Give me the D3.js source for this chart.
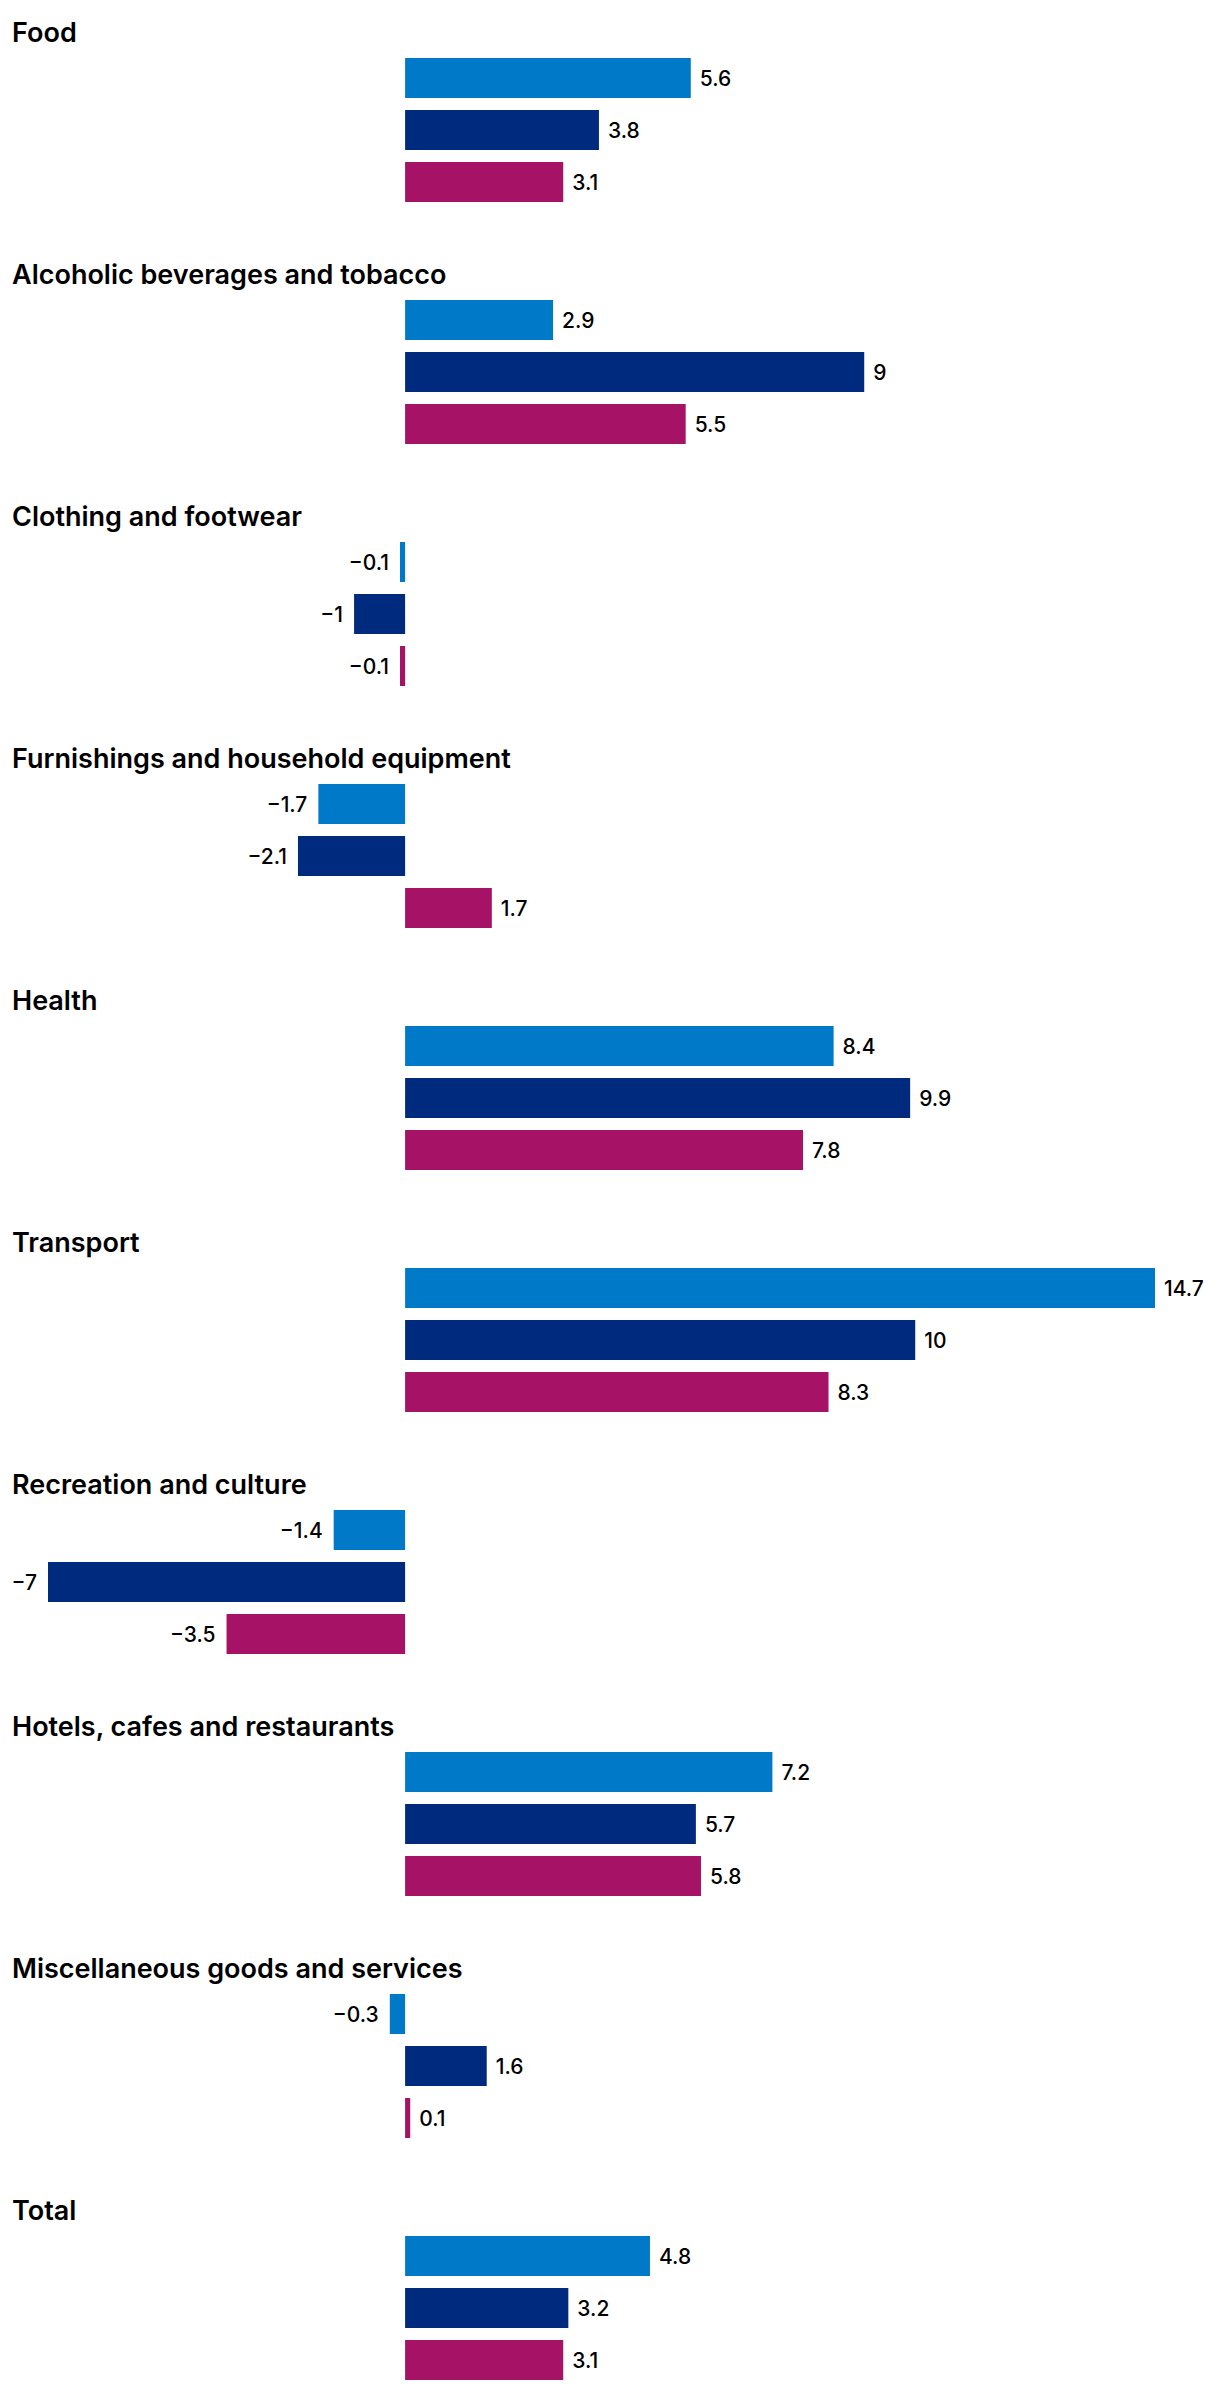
<!DOCTYPE html>
<html>
<head>
<meta charset="utf-8">
<script src="https://cdn.jsdelivr.net/npm/d3@7"></script>
<style>
  html, body { margin: 0; padding: 0; background: #ffffff; }
  svg { display: block; }
  .title { font-family: Inter, "Noto Sans", sans-serif; font-weight: 600; font-size: 27px; fill: #000; }
  .val { font-family: Inter, "Noto Sans", sans-serif; font-weight: 500; font-size: 21px; fill: #000; }
</style>
</head>
<body>
<svg id="chart" width="1220" height="2390"></svg>
<script>
const categories = [
  "Food",
  "Alcoholic beverages and tobacco",
  "Clothing and footwear",
  "Furnishings and household equipment",
  "Health",
  "Transport",
  "Recreation and culture",
  "Hotels, cafes and restaurants",
  "Miscellaneous goods and services",
  "Total"
];
const seriesNames = ["Series 1", "Series 2", "Series 3"];
const series1 = [5.6, 2.9, -0.1, -1.7, 8.4, 14.7, -1.4, 7.2, -0.3, 4.8];
const series2 = [3.8, 9, -1, -2.1, 9.9, 10, -7, 5.7, 1.6, 3.2];
const series3 = [3.1, 5.5, -0.1, 1.7, 7.8, 8.3, -3.5, 5.8, 0.1, 3.1];
const colors = ["#0079C8", "#002A7E", "#A61266"];

const allSeries = [series1, series2, series3];
const rows = categories.map((c, i) => ({
  category: c,
  values: seriesNames.map((s, j) => ({ series: s, value: allSeries[j][i], color: colors[j] }))
}));

const svg = d3.select("#chart");
const allVals = allSeries.flat();

const x = d3.scaleLinear()
  .domain([d3.min(allVals), d3.max(allVals)])
  .range([48, 1155]);

const yGroup = d3.scaleBand()
  .domain(categories)
  .range([0, 2420])
  .padding(0);

const yBar = d3.scaleBand()
  .domain(seriesNames)
  .range([0, 144])
  .paddingInner(12 / 52)
  .paddingOuter(0);

const fmt = v => (v < 0 ? "\u2212" : "") + d3.format("")(Math.abs(v));

const groups = svg.selectAll("g.group")
  .data(rows)
  .join("g")
  .attr("class", "group")
  .attr("transform", d => `translate(0,${yGroup(d.category)})`);

groups.append("text")
  .attr("class", "title")
  .attr("x", 12)
  .attr("y", 42)
  .text(d => d.category);

const barG = groups.append("g").attr("transform", "translate(0,58)");

barG.selectAll("rect")
  .data(d => d.values)
  .join("rect")
  .attr("x", d => Math.min(x(0), x(d.value)))
  .attr("y", d => yBar(d.series))
  .attr("width", d => Math.abs(x(d.value) - x(0)))
  .attr("height", yBar.bandwidth())
  .attr("fill", d => d.color);

barG.selectAll("text.val")
  .data(d => d.values)
  .join("text")
  .attr("class", "val")
  .attr("x", d => d.value >= 0 ? x(d.value) + 9 : x(d.value) - 11)
  .attr("y", d => yBar(d.series) + yBar.bandwidth() / 2)
  .attr("dy", "0.36em")
  .attr("text-anchor", d => d.value >= 0 ? "start" : "end")
  .text(d => fmt(d.value));
</script>
</body>
</html>
